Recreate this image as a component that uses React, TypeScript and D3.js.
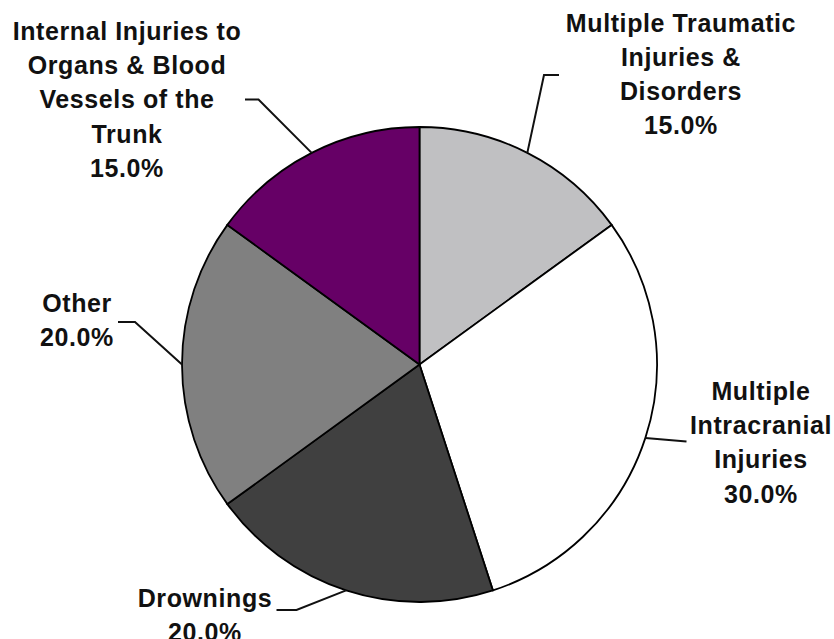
import React from "react";
import * as d3 from "d3";

const categories = [
  ["Multiple Traumatic", "Injuries &", "Disorders"],
  ["Multiple", "Intracranial", "Injuries"],
  ["Drownings"],
  ["Other"],
  ["Internal Injuries to", "Organs & Blood", "Vessels of the", "Trunk"],
];
const values = [15.0, 30.0, 20.0, 20.0, 15.0];
const colors = ["#c0c0c2", "#ffffff", "#404040", "#808080", "#660066"];

// layout: label center x, first baseline y, leader elbow & end points
const layout = [
  { lx: 681, ly: 31.5, pts: [[544, 75], [559, 75]] },
  { lx: 761, ly: 400, pts: [[686.5, 441.5]] },
  { lx: 205, ly: 606.5, pts: [[296.5, 610], [276.5, 610]] },
  { lx: 77, ly: 311.5, pts: [[135, 322], [118, 322]] },
  { lx: 127, ly: 40, pts: [[258.5, 99.5], [245, 99.5]] },
];

const W = 834;
const H = 639;
const cx = 419.5;
const cy = 364.5;
const R = 237.5;
const LH = 34.2;

export default function App() {
  const pie = d3
    .pie<number>()
    .sort(null)
    .value((d) => d)
    .startAngle(0)
    .endAngle(2 * Math.PI);
  const arcs = pie(values);
  const arc = d3.arc<d3.PieArcDatum<number>>().innerRadius(0).outerRadius(R);
  const line = d3.line();

  return (
    <svg
      width={W}
      height={H}
      style={{ position: "absolute", left: 0, top: 0, background: "#fff" }}
      fontFamily="'Liberation Sans', Arial, sans-serif"
      fontWeight="bold"
    >
      <rect width={W} height={H} fill="#fff" />
      <g transform={`translate(${cx},${cy})`}>
        {arcs.map((a, i) => (
          <path key={i} d={arc(a) || ""} fill={colors[i]} stroke="#000" strokeWidth={1.8} />
        ))}
      </g>
      {arcs.map((a, i) => {
        const mid = (a.startAngle + a.endAngle) / 2;
        const sx = cx + R * Math.sin(mid);
        const sy = cy - R * Math.cos(mid);
        const pts: [number, number][] = [[sx, sy], ...(layout[i].pts as [number, number][])];
        return (
          <path key={"l" + i} d={line(pts) || ""} fill="none" stroke="#111" strokeWidth={2} />
        );
      })}
      {categories.map((lines, i) => {
        const all = [...lines, `${values[i].toFixed(1)}%`];
        return (
          <text key={"t" + i} textAnchor="middle" fontSize={25} fill="#111" letterSpacing={0.6}>
            {all.map((s, j) => (
              <tspan key={j} x={layout[i].lx} y={layout[i].ly + j * LH}>
                {s}
              </tspan>
            ))}
          </text>
        );
      })}
    </svg>
  );
}
